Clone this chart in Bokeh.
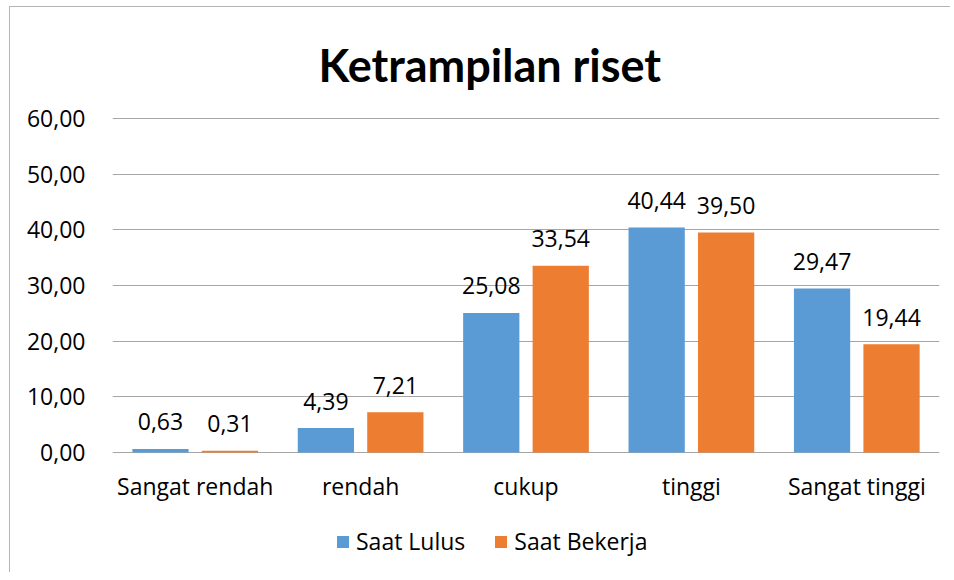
from bokeh.plotting import figure
from bokeh.layouts import column
from bokeh.models import (ColumnDataSource, FactorRange, Range1d, FixedTicker,
                          CustomJSTickFormatter, Legend, LegendItem)
from bokeh.transform import dodge
from bokeh.core.properties import value
from bokeh.embed import file_html
from bokeh.resources import INLINE

categories = ["Sangat rendah", "rendah", "cukup", "tinggi", "Sangat tinggi"]
saat_lulus = [0.63, 4.39, 25.08, 40.44, 29.47]
saat_bekerja = [0.31, 7.21, 33.54, 39.50, 19.44]
series_names = ["Saat Lulus", "Saat Bekerja"]
y_ticks = [0, 10, 20, 30, 40, 50, 60]
title_text = "Ketrampilan riset"

BLUE = "#5B9BD5"
ORANGE = "#ED7D31"
GRID = "#A6A6A6"
FONT = "Open Sans"
FS = "23px"


def fmt(v):
    return f"{v:.2f}".replace(".", ",")


src = ColumnDataSource(dict(
    cat=categories,
    lulus=saat_lulus,
    bekerja=saat_bekerja,
    lulus_lbl=[fmt(v) for v in saat_lulus],
    bekerja_lbl=[fmt(v) for v in saat_bekerja],
))

p = figure(width=940, height=505,
           x_range=FactorRange(*categories, range_padding=0),
           y_range=Range1d(-0.18, 60.18),
           output_backend="svg", toolbar_location=None,
           min_border_left=102, min_border_right=11,
           min_border_top=110, min_border_bottom=59)
p.outline_line_color = None
p.background_fill_color = "white"
p.border_fill_color = "white"

p.title.text = title_text
p.title.text_font = "Lato"
p.title.text_font_style = "bold"
p.title.text_font_size = "45px"
p.title.text_color = "#000000"
p.title.align = "left"
p.title.offset = 206
p.title.standoff = 52

off = 0.21
bw = 0.34
r1 = p.vbar(x=dodge("cat", -off, range=p.x_range), top="lulus", width=bw,
            source=src, fill_color=BLUE, line_color=None)
r2 = p.vbar(x=dodge("cat", off, range=p.x_range), top="bekerja", width=bw,
            source=src, fill_color=ORANGE, line_color=None)

for col, lbl, o in (("lulus", "lulus_lbl", -off), ("bekerja", "bekerja_lbl", off)):
    p.text(x=dodge("cat", o, range=p.x_range), y=col, text=lbl, source=src,
           text_align="center", text_baseline="alphabetic", y_offset=-27,
           text_font=value(FONT), text_font_size=FS, text_color="#000000")

# axes
p.yaxis.ticker = FixedTicker(ticks=y_ticks)
p.yaxis.formatter = CustomJSTickFormatter(code="return tick.toFixed(2).replace('.', ',');")
for ax in (p.xaxis, p.yaxis):
    ax.axis_line_color = None
    ax.major_tick_line_color = None
    ax.minor_tick_line_color = None
    ax.major_tick_out = 0
    ax.major_tick_in = 0
    ax.major_label_text_font = FONT
    ax.major_label_text_font_size = FS
    ax.major_label_text_color = "#000000"
p.yaxis.major_label_standoff = 27
p.xaxis.major_label_standoff = 16

p.xgrid.grid_line_color = None
p.ygrid.ticker = FixedTicker(ticks=y_ticks)
p.ygrid.grid_line_color = GRID
p.ygrid.grid_line_width = 1

# legend strip below the chart (renderers there are zero-width and out of range;
# they only provide the legend swatches)
leg = figure(width=940, height=60,
             x_range=p.x_range, y_range=Range1d(-100, -99),
             output_backend="svg", toolbar_location=None,
             x_axis_type=None, y_axis_type=None,
             min_border=0, min_border_left=0, min_border_right=0,
             min_border_top=0, min_border_bottom=0)
leg.outline_line_color = None
leg.xgrid.grid_line_color = None
leg.ygrid.grid_line_color = None
lr1 = leg.vbar(x=dodge("cat", -off, range=leg.x_range), top="lulus", width=0,
               source=src, fill_color=BLUE, line_color=None)
lr2 = leg.vbar(x=dodge("cat", off, range=leg.x_range), top="bekerja", width=0,
               source=src, fill_color=ORANGE, line_color=None)
legend = Legend(items=[LegendItem(label=series_names[0], renderers=[lr1]),
                       LegendItem(label=series_names[1], renderers=[lr2])],
                orientation="horizontal", location=(223, 15))
legend.label_text_font = FONT
legend.label_text_font_size = FS
legend.label_text_color = "#000000"
legend.glyph_width = 15
legend.glyph_height = 15
legend.label_height = 15
legend.label_standoff = 6
legend.spacing = 28
legend.border_line_color = None
legend.background_fill_alpha = 0
legend.padding = 4
legend.margin = 0
leg.add_layout(legend)

layout = column(p, leg, spacing=0, margin=(6, 0, 0, 9),
                styles={"border-left": "1px solid #B4B4B4",
                        "border-top": "1px solid #B4B4B4"})

open("out.html", "w").write(file_html(layout, INLINE))
